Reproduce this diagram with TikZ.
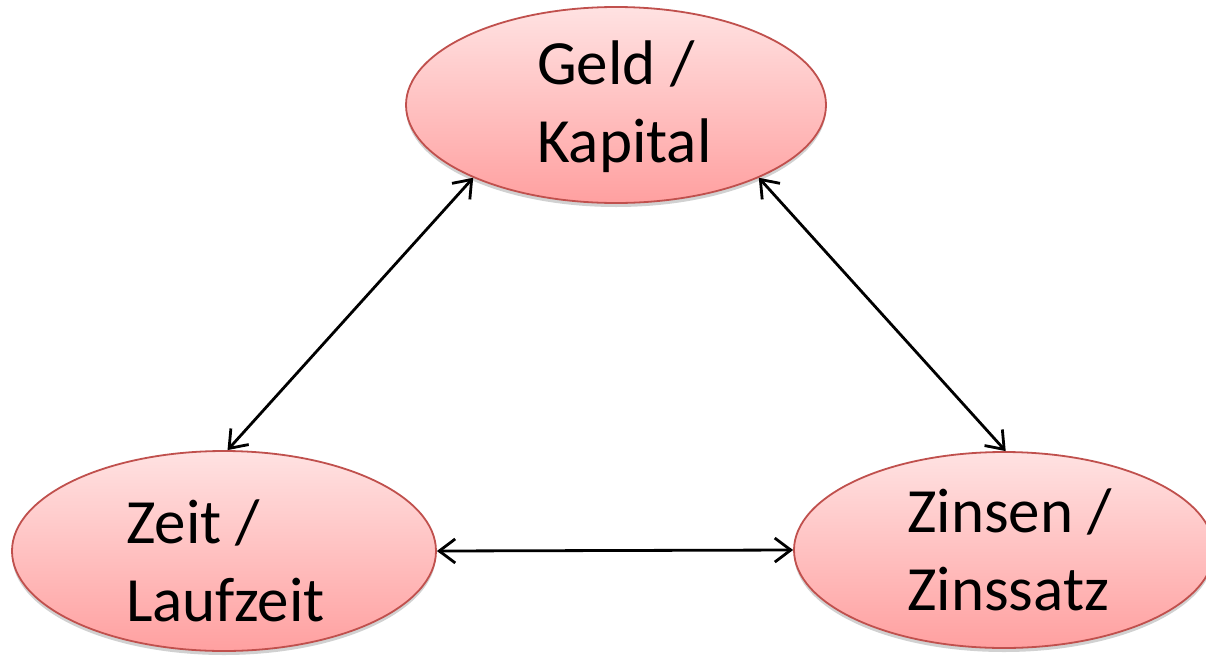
\documentclass[tikz,border=0pt]{standalone}
\usepackage{fontspec}
\setmainfont{Carlito}
\usetikzlibrary{arrows.meta,shapes.geometric,shadows}
\definecolor{ebord}{RGB}{192,80,77}
\definecolor{etop}{RGB}{255,226,226}
\definecolor{ebot}{RGB}{255,160,160}
\begin{document}
\begin{tikzpicture}[x=1pt,y=-1pt,
  bub/.style={ellipse, draw=ebord, line width=1.8pt, top color=etop, bottom color=ebot,
    minimum width=420pt, minimum height=196pt, inner sep=0pt,
    drop shadow={shadow xshift=0pt, shadow yshift=-4pt, opacity=0.18, fill=black}},
  lbl/.style={font=\fontsize{63}{78}\selectfont, align=left, anchor=base west, inner sep=0pt},
  link/.style={line width=2.8pt, {Straight Barb[length=16pt,width=24pt]}-{Straight Barb[length=16pt,width=24pt]}}]
\useasboundingbox (0,0) rectangle (1206,656);
\clip (0,0) rectangle (1206,656);
\fill[white] (0,0) rectangle (1206,656);
\node[bub] (top) at (616,105) {};
\node[bub, minimum width=424pt, minimum height=200pt] (left) at (224,551) {};
\node[bub] (right) at (1004,550) {};
\node[lbl] (ttop) at (537,162) {Geld /\\Kapital};
\node[lbl] (tleft) at (126,621) {Zeit /\\Laufzeit};
\node[lbl] (tright) at (907,610) {Zinsen /\\Zinssatz};
\draw[link] (left.88) -- (top.207);
\draw[link] (top.333) -- (right.89);
\draw[link] (left.0) -- (right.180);
\end{tikzpicture}
\end{document}
